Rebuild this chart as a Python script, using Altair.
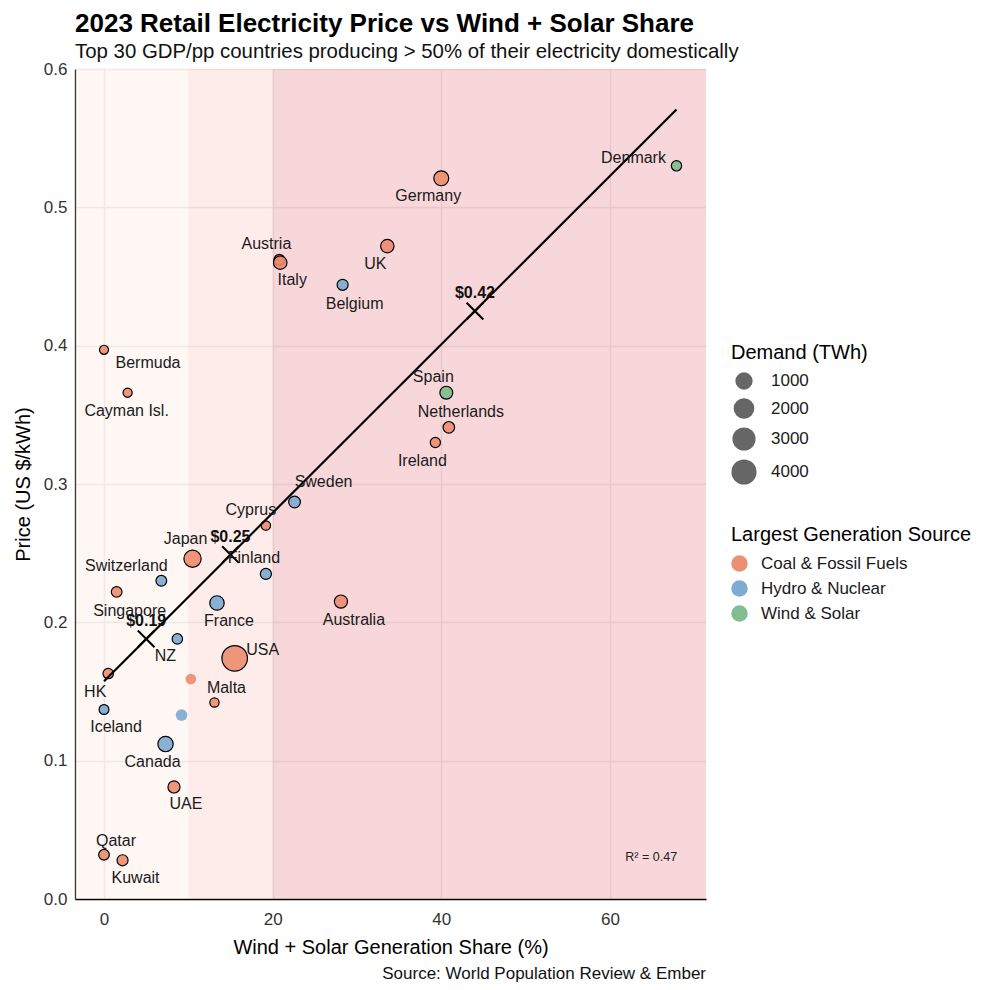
import altair as alt
import pandas as pd

# ---------------- data ----------------
countries = ["Denmark", "Germany", "Austria", "Italy", "UK", "Belgium", "Bermuda",
             "Cayman Isl.", "Spain", "Netherlands", "Ireland", "Sweden", "Cyprus",
             "Japan", "Finland", "Switzerland", "Singapore", "France", "Australia",
             "NZ", "USA", "HK", "Malta", "", "", "Iceland", "Canada", "UAE",
             "Qatar", "Kuwait"]
share = [67.9, 40.0, 20.8, 20.9, 33.6, 28.3, 0.0,
         2.8, 40.6, 40.9, 39.3, 22.6, 19.2,
         10.5, 19.2, 6.8, 1.5, 13.4, 28.1,
         8.7, 15.5, 0.5, 13.1, 10.3, 9.2, 0.0, 7.3, 8.3,
         0.0, 2.2]
price = [0.530, 0.521, 0.462, 0.460, 0.472, 0.444, 0.397,
         0.366, 0.366, 0.341, 0.330, 0.287, 0.270,
         0.246, 0.235, 0.230, 0.222, 0.214, 0.215,
         0.188, 0.174, 0.163, 0.142, 0.159, 0.133, 0.137, 0.112, 0.081,
         0.032, 0.028]
demand = [37, 525, 70, 313, 306, 80, 0.6,
          0.7, 245, 114, 33, 133, 5,
          985, 82, 61, 57, 445, 270,
          44, 4180, 46, 3, 60, 125, 19, 590, 160,
          55, 78]
source = ["Wind & Solar", "Coal & Fossil Fuels", "Coal & Fossil Fuels", "Coal & Fossil Fuels",
          "Coal & Fossil Fuels", "Hydro & Nuclear", "Coal & Fossil Fuels",
          "Coal & Fossil Fuels", "Wind & Solar", "Coal & Fossil Fuels", "Coal & Fossil Fuels",
          "Hydro & Nuclear", "Coal & Fossil Fuels",
          "Coal & Fossil Fuels", "Hydro & Nuclear", "Hydro & Nuclear", "Coal & Fossil Fuels",
          "Hydro & Nuclear", "Coal & Fossil Fuels",
          "Hydro & Nuclear", "Coal & Fossil Fuels", "Coal & Fossil Fuels", "Coal & Fossil Fuels",
          "Coal & Fossil Fuels", "Hydro & Nuclear", "Hydro & Nuclear", "Hydro & Nuclear",
          "Coal & Fossil Fuels", "Coal & Fossil Fuels", "Coal & Fossil Fuels"]

source_levels = ["Coal & Fossil Fuels", "Hydro & Nuclear", "Wind & Solar"]

# fitted-price markers on the trend line
marker_share = [5, 15, 44]
marker_price = [0.188, 0.249, 0.425]
marker_text = ["$0.19", "$0.25", "$0.42"]

# shaded share bands
band_edges = [-3.44, 10, 20, 71.4]

x_ticks = [0, 20, 40, 60]
y_ticks = [0.0, 0.1, 0.2, 0.3, 0.4, 0.5, 0.6]
size_legend_values = [1000, 2000, 3000, 4000]

# ---------------- styling (label nudges in px) ----------------
LABEL_NUDGE = {
    "Denmark": (-43, -8), "Germany": (-13, 18), "Austria": (-13, -16), "Italy": (12, 17),
    "UK": (-12, 18), "Belgium": (12, 19), "Bermuda": (44, 13), "Cayman Isl.": (-1, 18),
    "Spain": (-13, -16), "Netherlands": (12, -15), "Ireland": (-13, 18), "Sweden": (29, -20),
    "Cyprus": (-15, -16), "Japan": (-7, -20), "Finland": (-12, -16), "Switzerland": (-35, -15),
    "Singapore": (13, 19), "France": (12, 18), "Australia": (13, 18), "NZ": (-12, 17),
    "USA": (28, -8), "HK": (-13, 18), "Malta": (12, -15), "Iceland": (12, 18),
    "Canada": (-13, 18), "UAE": (12, 17), "Qatar": (12, -14), "Kuwait": (13, 18),
}
SRC_COLORS = ["#EA8A6B", "#77A7CF", "#7AB98A"]
BAND_COLORS = ["#FBDFD3", "#F7B3A7", "#E35F6B"]
FONT = "Liberation Sans"
W, H = 631, 830

df = pd.DataFrame({"country": countries, "share": share, "price": price,
                   "demand": demand, "source": source})
markers = pd.DataFrame({"share": marker_share, "price": marker_price, "text": marker_text})

x_scale = alt.Scale(domain=[band_edges[0], band_edges[-1]], nice=False, zero=False)
y_scale = alt.Scale(domain=[y_ticks[0], y_ticks[-1]], nice=False, zero=False)

x_axis = alt.Axis(values=x_ticks, format="d", title="Wind + Solar Generation Share (%)",
                  labelPadding=12, titlePadding=10)
y_axis = alt.Axis(values=y_ticks, format=".1f", title="Price (US $/kWh)",
                  labelPadding=8, titlePadding=10)

X = lambda f: alt.X(f, scale=x_scale)
Y = lambda f: alt.Y(f, scale=y_scale)

layers = []
for i in range(3):
    bdf = pd.DataFrame({"x0": [band_edges[i]], "x1": [band_edges[i + 1]],
                        "y0": [y_ticks[0]], "y1": [y_ticks[-1]]})
    if i == 0:
        enc = dict(x=alt.X("x0:Q", scale=x_scale, axis=x_axis), x2="x1:Q",
                   y=alt.Y("y0:Q", scale=y_scale, axis=y_axis), y2="y1:Q")
    else:
        enc = dict(x=X("x0:Q"), x2="x1:Q", y=Y("y0:Q"), y2="y1:Q")
    layers.append(alt.Chart(bdf).mark_rect(color=BAND_COLORS[i], opacity=0.25).encode(**enc))

points = alt.Chart(df).mark_circle(stroke="black", opacity=1, fillOpacity=0.88).encode(
    x=X("share:Q"),
    y=Y("price:Q"),
    size=alt.Size("demand:Q",
                  scale=alt.Scale(type="pow", exponent=0.67, domain=[0, 4200], range=[82, 651]),
                  legend=alt.Legend(title="Demand (TWh)", values=size_legend_values, format="d",
                                    orient="none", legendX=656, legendY=274,
                                    symbolFillColor="#666666", symbolStrokeWidth=0,
                                    symbolOpacity=1, rowPadding=8, titlePadding=9,
                                    labelOffset=14)),
    color=alt.Color("source:N",
                    scale=alt.Scale(domain=source_levels, range=SRC_COLORS),
                    legend=alt.Legend(title="Largest Generation Source", orient="none",
                                      legendX=656, legendY=456, symbolType="circle",
                                      symbolSize=270, symbolStrokeWidth=0, symbolOpacity=0.95,
                                      rowPadding=7, titlePadding=10, labelOffset=13,
                                      titleLimit=400, labelLimit=300)),
    strokeWidth=alt.condition(alt.datum.country != "", alt.value(1.2), alt.value(0)),
)

trend = alt.Chart(df).transform_regression("share", "price").mark_line(
    color="black", strokeWidth=2.2).encode(x=X("share:Q"), y=Y("price:Q"))

cross = alt.Chart(markers).mark_point(
    shape="M-1,-1L1,1M-1,1L1,-1", size=280, filled=False, color="black",
    strokeWidth=2, opacity=1).encode(x=X("share:Q"), y=Y("price:Q"))

cross_text = alt.Chart(markers).mark_text(
    font=FONT, fontSize=16, fontWeight="bold", color="#111111", dy=-18).encode(
    x=X("share:Q"), y=Y("price:Q"), text="text:N")

label_layers = []
for c, (ddx, ddy) in LABEL_NUDGE.items():
    label_layers.append(
        alt.Chart(df).transform_filter(alt.datum.country == c).mark_text(
            font=FONT, fontSize=16, color="#1a1a1a", dx=ddx, dy=ddy).encode(
            x=X("share:Q"), y=Y("price:Q"), text="country:N"))

r2 = alt.Chart(pd.DataFrame({"share": [64.9], "price": [0.0305], "t": ["R\u00b2 = 0.47"]})).mark_text(
    font=FONT, fontSize=12.5, color="#222222").encode(
    x=X("share:Q"), y=Y("price:Q"), text="t:N")

caption = alt.Chart(pd.DataFrame({"t": ["Source: World Population Review & Ember"]})).mark_text(
    font=FONT, fontSize=17, color="#111111", align="right", baseline="middle").encode(
    x=alt.value(W), y=alt.value(H + 75), text="t:N")

chart = alt.layer(*layers, points, trend, cross, cross_text, *label_layers, r2, caption).properties(
    width=W, height=H, background="white",
    title=alt.Title(
        text="2023 Retail Electricity Price vs Wind + Solar Share",
        subtitle="Top 30 GDP/pp countries producing > 50% of their electricity domestically",
        anchor="start", frame="group", font=FONT, fontSize=26, fontWeight="bold",
        color="#000000", subtitleFont=FONT, subtitleFontSize=20.4, subtitleColor="#111111",
        subtitlePadding=5, offset=-2),
    padding={"left": 5, "top": 2, "right": 5, "bottom": 2},
).configure_view(stroke=None).configure_axis(
    gridColor="#EBEBEB", gridWidth=1.4, domainColor="#000000", domainWidth=1.3,
    ticks=False, labelFont=FONT, labelFontSize=17, labelColor="#333333",
    titleFont=FONT, titleFontSize=20, titleFontWeight="normal", titleColor="#000000",
).configure_legend(
    titleFont=FONT, titleFontSize=20, titleFontWeight="normal", titleColor="#000000",
    labelFont=FONT, labelFontSize=17, labelColor="#1a1a1a",
)

chart.save("out.html", embed_options={"renderer": "svg", "actions": False})
